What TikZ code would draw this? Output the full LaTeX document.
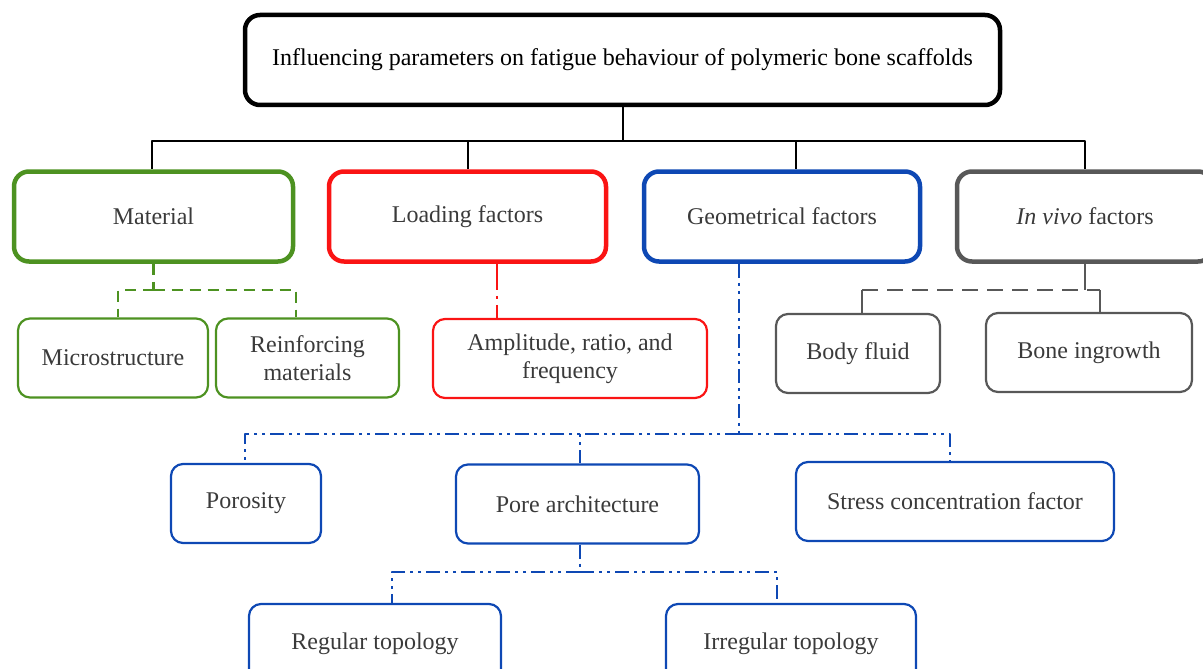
\documentclass[tikz,border=0pt]{standalone}
\usepackage{fontspec}
\setmainfont{Liberation Serif}
\usetikzlibrary{positioning,calc}
\definecolor{matgreen}{RGB}{77,146,33}
\definecolor{loadred}{RGB}{250,20,20}
\definecolor{geoblue}{RGB}{14,72,180}
\definecolor{vivogray}{RGB}{88,88,88}
\definecolor{txtgray}{RGB}{58,58,58}

\begin{document}
\begin{tikzpicture}[x=1pt,y=-1pt,line join=round,
    every node/.style={font=\fontsize{24}{28}\selectfont,text=txtgray,align=center},
    head/.style={draw,rounded corners=15pt,line width=4.5pt,minimum height=90pt},
    sub/.style={draw,rounded corners=12pt,line width=2.2pt,minimum height=79pt},
    tree/.style={line width=2pt},
    greenlink/.style={matgreen,line width=2.8pt,dash pattern=on 11pt off 7pt},
    redlink/.style={loadred,line width=2.8pt,dash pattern=on 26pt off 6pt on 3pt off 6pt},
    bluelink/.style={geoblue,line width=2.8pt,dash pattern=on 14pt off 5pt on 3pt off 5pt on 3pt off 5pt},
    graylink/.style={vivogray,line width=2.8pt}]

  \clip (0,0) rectangle (1203,669);

  \node[head,minimum width=755,text=black] (top) at (622.5,60)
       {Influencing parameters on fatigue behaviour of polymeric bone scaffolds};

  \node[head,draw=matgreen,minimum width=279] (mat) at (153.5,216.5) {Material};
  \node[head,draw=loadred,minimum width=277] (load) at (467.5,216.5) {Loading factors};
  \node[head,draw=geoblue,minimum width=276] (geom) at (782,216.5) {Geometrical factors};
  \node[head,draw=vivogray,minimum width=256] (vivo) at (1085,216.5) {\textit{In vivo} factors};

  \node[sub,draw=matgreen,minimum width=190] (micro) at (113,358) {Microstructure};
  \node[sub,draw=matgreen,minimum width=183] (reinf) at (307.5,358)
       {Reinforcing\\materials};
  \node[sub,draw=loadred,minimum width=274] (ampl) at (570,358.5)
       {Amplitude, ratio, and\\frequency};
  \node[sub,draw=vivogray,minimum width=164] (fluid) at (858,353.5) {Body fluid};
  \node[sub,draw=vivogray,minimum width=206] (ingrowth) at (1089,352.5) {Bone ingrowth};

  \node[sub,draw=geoblue,minimum width=150] (poro) at (246,503.5) {Porosity};
  \node[sub,draw=geoblue,minimum width=243] (porearch) at (577.5,504) {Pore architecture};
  \node[sub,draw=geoblue,minimum width=318] (scf) at (955,501.5) {Stress concentration factor};

  \node[sub,draw=geoblue,minimum width=252] (regtop) at (375,643.5) {Regular topology};
  \node[sub,draw=geoblue,minimum width=250] (irrtop) at (791,643.5) {Irregular topology};

  \coordinate (mainbus) at (622.5,141);
  \draw[tree] (top.south) -- (mainbus);
  \draw[tree] (mainbus) -| ([xshift=-1.5]mat.north);
  \draw[tree] (mainbus) -| (load.north);
  \draw[tree] (mainbus) -| ([xshift=14]geom.north);
  \draw[tree] (mainbus) -| (vivo.north);

  \coordinate (matbus) at (153.5,290);
  \draw[greenlink] (mat.south) -- (matbus);
  \draw[greenlink] (matbus) -| ([xshift=5]micro.north);
  \draw[greenlink] (matbus) -| ([xshift=-11.5]reinf.north);

  \draw[redlink] ([xshift=-73]ampl.north |- load.south) -- ([xshift=-73]ampl.north);

  \coordinate (vivobus) at (1085,290);
  \draw[graylink] (vivo.south) -- (vivobus);
  \draw[graylink,dash pattern=on 16pt off 9pt] ([xshift=4]fluid.north |- vivobus) -- ([xshift=11]ingrowth.north |- vivobus);
  \draw[graylink] ([xshift=4]fluid.north |- vivobus) -- ([xshift=4]fluid.north);
  \draw[graylink] ([xshift=11]ingrowth.north |- vivobus) -- ([xshift=11]ingrowth.north);

  \coordinate (geombus) at (739,434);
  \draw[bluelink] ([xshift=-43]geom.south) -- (geombus);
  \draw[bluelink] (geombus) -| ([xshift=-1]poro.north);
  \draw[bluelink] (geombus) -| ([xshift=2.5]porearch.north);
  \draw[bluelink] (geombus) -| ([xshift=-5]scf.north);

  \coordinate (archbus) at (580,572);
  \draw[bluelink] ([xshift=2.5]porearch.south) -- (archbus);
  \draw[bluelink] (archbus) -| ([xshift=17]regtop.north);
  \draw[bluelink] (archbus) -| ([xshift=-14]irrtop.north);
\end{tikzpicture}
\end{document}
